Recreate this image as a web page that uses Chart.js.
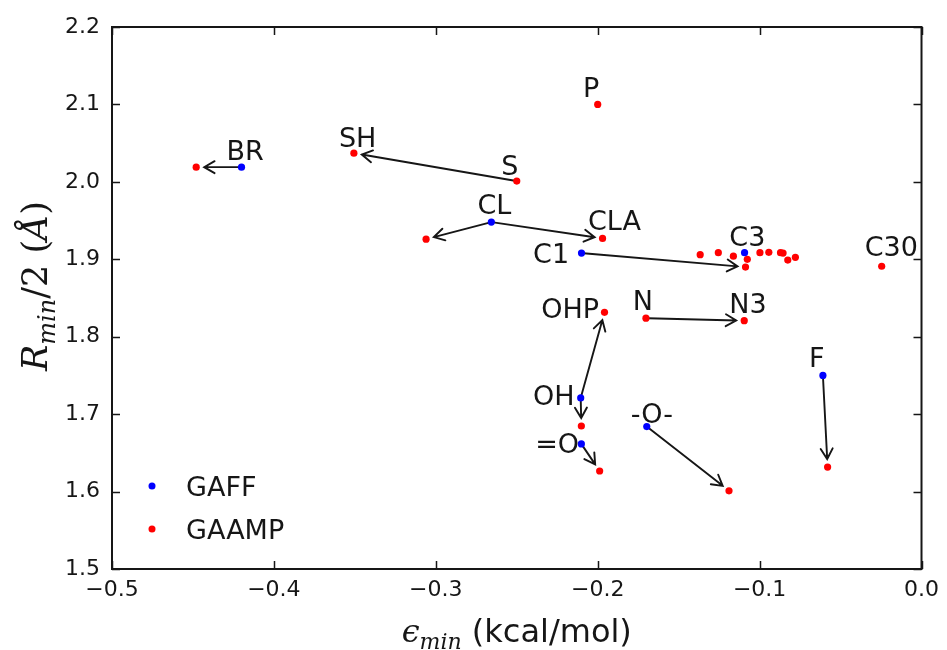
<!DOCTYPE html>
<html>
<head>
<meta charset="utf-8">
<script src="https://cdn.jsdelivr.net/npm/chart.js@4.4.0/dist/chart.umd.min.js"></script>
<style>
  html, body { margin: 0; padding: 0; background: #fff; }
  canvas { display: block; }
</style>
</head>
<body>
<canvas id="chart" width="947" height="650"></canvas>
<script>
// GAFF atom types: epsilon_min (kcal/mol) and Rmin/2 (A)
const gaffNames = ['BR', 'CL', 'C1', 'C3', 'OH', '=O', '-O-', 'F'];
const gaffEps   = [-0.420, -0.2657, -0.210, -0.1093, -0.2105, -0.2101, -0.1697, -0.0609];
const gaffRmin  = [2.019, 1.948, 1.908, 1.9085, 1.721, 1.6615, 1.684, 1.750];

// GAAMP atom types
const gaampNames = ['BR', 'SH', 'S', 'P', 'CL', 'CLA',
  'C3-1', 'C3-2', 'C3-3', 'C3-4', 'C1', 'C3-5', 'C3-6', 'C3-7', 'C3-8', 'C3-9', 'C3-10',
  'C30', 'OHP', 'N', 'N3', 'OH', '=O', '-O-', 'F'];
const gaampEps  = [-0.448, -0.3506, -0.250, -0.200, -0.306, -0.197,
  -0.1367, -0.1255, -0.1162, -0.1076, -0.1087, -0.0998, -0.0943, -0.0871, -0.0855, -0.0826, -0.0779,
  -0.0246, -0.1958, -0.1702, -0.1095, -0.2101, -0.1988, -0.1189, -0.0580];
const gaampRmin = [2.019, 2.037, 2.001, 2.100, 1.926, 1.927,
  1.906, 1.9085, 1.904, 1.900, 1.890, 1.9085, 1.909, 1.9085, 1.908, 1.899, 1.9025,
  1.891, 1.8315, 1.824, 1.8207, 1.6847, 1.6266, 1.601, 1.6317];

// arrows: [from set, from name, to set, to name]
const arrows = [
  ['GAFF', 'BR', 'GAAMP', 'BR'],
  ['GAAMP', 'S', 'GAAMP', 'SH'],
  ['GAFF', 'CL', 'GAAMP', 'CL'],
  ['GAFF', 'CL', 'GAAMP', 'CLA'],
  ['GAFF', 'C1', 'GAAMP', 'C1'],
  ['GAFF', 'OH', 'GAAMP', 'OHP'],
  ['GAFF', 'OH', 'GAAMP', 'OH'],
  ['GAFF', '=O', 'GAAMP', '=O'],
  ['GAFF', '-O-', 'GAAMP', '-O-'],
  ['GAAMP', 'N', 'GAAMP', 'N3'],
  ['GAFF', 'F', 'GAAMP', 'F']
];

// text labels, anchored (left, baseline) at data coordinates
const labelText = ['BR', 'SH', 'S', 'P', 'CL', 'CLA', 'C1', 'C3', 'C30', 'OHP', 'N', 'N3', 'OH', '-O-', '=O', 'F'];
const labelEps  = [-0.4293, -0.3598, -0.2595, -0.2091, -0.2743, -0.2060, -0.2399, -0.1187, -0.0351,
  -0.2349, -0.1783, -0.1187, -0.2399, -0.1796, -0.2386, -0.0695];
const labelRmin = [2.0282, 2.045, 2.0089, 2.1096, 1.9585, 1.9378, 1.8952, 1.9172, 1.9043,
  1.8242, 1.8345, 1.8306, 1.7118, 1.6886, 1.6498, 1.7609];

const xTicks = [-0.5, -0.4, -0.3, -0.2, -0.1, 0.0];
const yTicks = [1.5, 1.6, 1.7, 1.8, 1.9, 2.0, 2.1, 2.2];

const INK = '#161616';

function toPoints(xs, ys) {
    return xs.map((v, i) => ({ x: v, y: ys[i] }));
}

function lookup(set, name) {
    if (set === 'GAFF') {
        const i = gaffNames.indexOf(name);
        return { x: gaffEps[i], y: gaffRmin[i] };
    }
    const i = gaampNames.indexOf(name);
    return { x: gaampEps[i], y: gaampRmin[i] };
}

function fmt(v) {
    const s = Math.abs(v).toFixed(1);
    return v < -1e-9 ? '\u2212' + s : s;
}

// draw a run of text pieces with different fonts
function drawPieces(ctx, pieces, startX, baseY) {
    let cx = startX;
    pieces.forEach(p => {
        ctx.font = p.font;
        ctx.fillText(p.t, cx, baseY + (p.dy || 0));
        cx += ctx.measureText(p.t).width;
    });
}

function piecesWidth(ctx, pieces) {
    let w = 0;
    pieces.forEach(p => {
        ctx.font = p.font;
        w += ctx.measureText(p.t).width;
    });
    return w;
}

const arrowPlugin = {
    id: 'arrows',
    beforeDatasetsDraw(chart) {
        const { ctx, scales: { x, y } } = chart;
        ctx.save();
        ctx.strokeStyle = INK;
        ctx.lineWidth = 1.9;
        ctx.lineCap = 'round';
        arrows.forEach(a => {
            const p0 = lookup(a[0], a[1]);
            const p1 = lookup(a[2], a[3]);
            const x0 = x.getPixelForValue(p0.x), y0 = y.getPixelForValue(p0.y);
            const x1 = x.getPixelForValue(p1.x), y1 = y.getPixelForValue(p1.y);
            const len = Math.hypot(x1 - x0, y1 - y0);
            const ux = (x1 - x0) / len, uy = (y1 - y0) / len;
            const sx = x0 + ux * 2, sy = y0 + uy * 2;
            const tx = x1 - ux * 8, ty = y1 - uy * 8;
            ctx.beginPath();
            ctx.moveTo(sx, sy);
            ctx.lineTo(tx, ty);
            const head = 12, ang = Math.PI / 6;
            const base = Math.atan2(uy, ux) + Math.PI;
            ctx.moveTo(tx + head * Math.cos(base - ang), ty + head * Math.sin(base - ang));
            ctx.lineTo(tx, ty);
            ctx.lineTo(tx + head * Math.cos(base + ang), ty + head * Math.sin(base + ang));
            ctx.stroke();
        });
        ctx.restore();
    },
    afterDatasetsDraw(chart) {
        const { ctx, scales: { x, y } } = chart;
        ctx.save();
        ctx.fillStyle = INK;
        ctx.font = '27px "DejaVu Sans"';
        ctx.textAlign = 'left';
        ctx.textBaseline = 'alphabetic';
        labelText.forEach((t, i) => {
            ctx.fillText(t, x.getPixelForValue(labelEps[i]), y.getPixelForValue(labelRmin[i]));
        });
        ctx.restore();
    }
};

const framePlugin = {
    id: 'frame',
    afterDraw(chart) {
        const { ctx, chartArea: a, scales: { x, y } } = chart;
        ctx.save();
        ctx.strokeStyle = INK;
        ctx.lineWidth = 2;
        ctx.strokeRect(a.left, a.top, a.right - a.left, a.bottom - a.top);

        // inward ticks on all four sides
        ctx.lineWidth = 1.5;
        const tl = 8;
        ctx.beginPath();
        xTicks.forEach(v => {
            const px = Math.round(x.getPixelForValue(v)) + 0.5;
            ctx.moveTo(px, a.bottom); ctx.lineTo(px, a.bottom - tl);
            ctx.moveTo(px, a.top); ctx.lineTo(px, a.top + tl);
        });
        yTicks.forEach(v => {
            const py = Math.round(y.getPixelForValue(v)) + 0.5;
            ctx.moveTo(a.left, py); ctx.lineTo(a.left + tl, py);
            ctx.moveTo(a.right, py); ctx.lineTo(a.right - tl, py);
        });
        ctx.stroke();

        // legend
        ctx.textAlign = 'left';
        ctx.textBaseline = 'alphabetic';
        ctx.font = '27px "DejaVu Sans"';
        chart.data.datasets.forEach((ds, i) => {
            const cy = a.bottom - 83 + i * 43;
            ctx.fillStyle = ds.backgroundColor;
            ctx.beginPath();
            ctx.arc(a.left + 40, cy, 3.5, 0, Math.PI * 2);
            ctx.fill();
            ctx.fillStyle = INK;
            ctx.fillText(ds.label, a.left + 74, cy + 10);
        });

        // x axis title
        const xt = [
            { t: '\u03F5', font: 'italic 32px "DejaVu Serif"' },
            { t: 'min', font: 'italic 22px "DejaVu Serif"', dy: 7 },
            { t: ' (kcal/mol)', font: '32px "DejaVu Sans"' }
        ];
        const cxm = (a.left + a.right) / 2;
        drawPieces(ctx, xt, cxm - piecesWidth(ctx, xt) / 2, 642);

        // y axis title, rotated
        const yt = [
            { t: 'R', font: 'italic 35px "DejaVu Serif"' },
            { t: 'min', font: 'italic 24px "DejaVu Serif"', dy: 8 },
            { t: '/2 (', font: '35px "DejaVu Serif"' },
            { t: '\u00C5', font: 'italic 35px "DejaVu Serif"' },
            { t: ')', font: '35px "DejaVu Serif"' }
        ];
        ctx.translate(47, (a.top + a.bottom) / 2 - 12);
        ctx.rotate(-Math.PI / 2);
        drawPieces(ctx, yt, -piecesWidth(ctx, yt) / 2, 0);
        ctx.restore();
    }
};

const ctx = document.getElementById('chart').getContext('2d');
const chart = new Chart(ctx, {
    type: 'scatter',
    data: {
        datasets: [
            {
                label: 'GAFF',
                data: toPoints(gaffEps, gaffRmin),
                backgroundColor: '#0000ff',
                borderWidth: 0,
                pointRadius: 3.6
            },
            {
                label: 'GAAMP',
                data: toPoints(gaampEps, gaampRmin),
                backgroundColor: '#ff0000',
                borderWidth: 0,
                pointRadius: 3.6
            }
        ]
    },
    options: {
        responsive: false,
        animation: false,
        layout: { padding: { left: 0, right: 22, top: 27, bottom: 0 } },
        plugins: {
            legend: { display: false },
            tooltip: { enabled: false }
        },
        scales: {
            x: {
                type: 'linear',
                min: -0.5,
                max: 0,
                afterBuildTicks: s => { s.ticks = xTicks.map(v => ({ value: v })); },
                afterFit: s => { s.height = 81; },
                grid: { display: false, drawTicks: false },
                border: { display: false },
                ticks: {
                    padding: 8,
                    color: INK,
                    font: { family: 'DejaVu Sans', size: 22 },
                    callback: v => fmt(v)
                }
            },
            y: {
                type: 'linear',
                min: 1.5,
                max: 2.2,
                afterBuildTicks: s => { s.ticks = yTicks.map(v => ({ value: v })); },
                afterFit: s => { s.width = 112; },
                grid: { display: false, drawTicks: false },
                border: { display: false },
                ticks: {
                    padding: 12,
                    color: INK,
                    font: { family: 'DejaVu Sans', size: 22 },
                    callback: v => v.toFixed(1)
                }
            }
        }
    },
    plugins: [arrowPlugin, framePlugin]
});
</script>
</body>
</html>
